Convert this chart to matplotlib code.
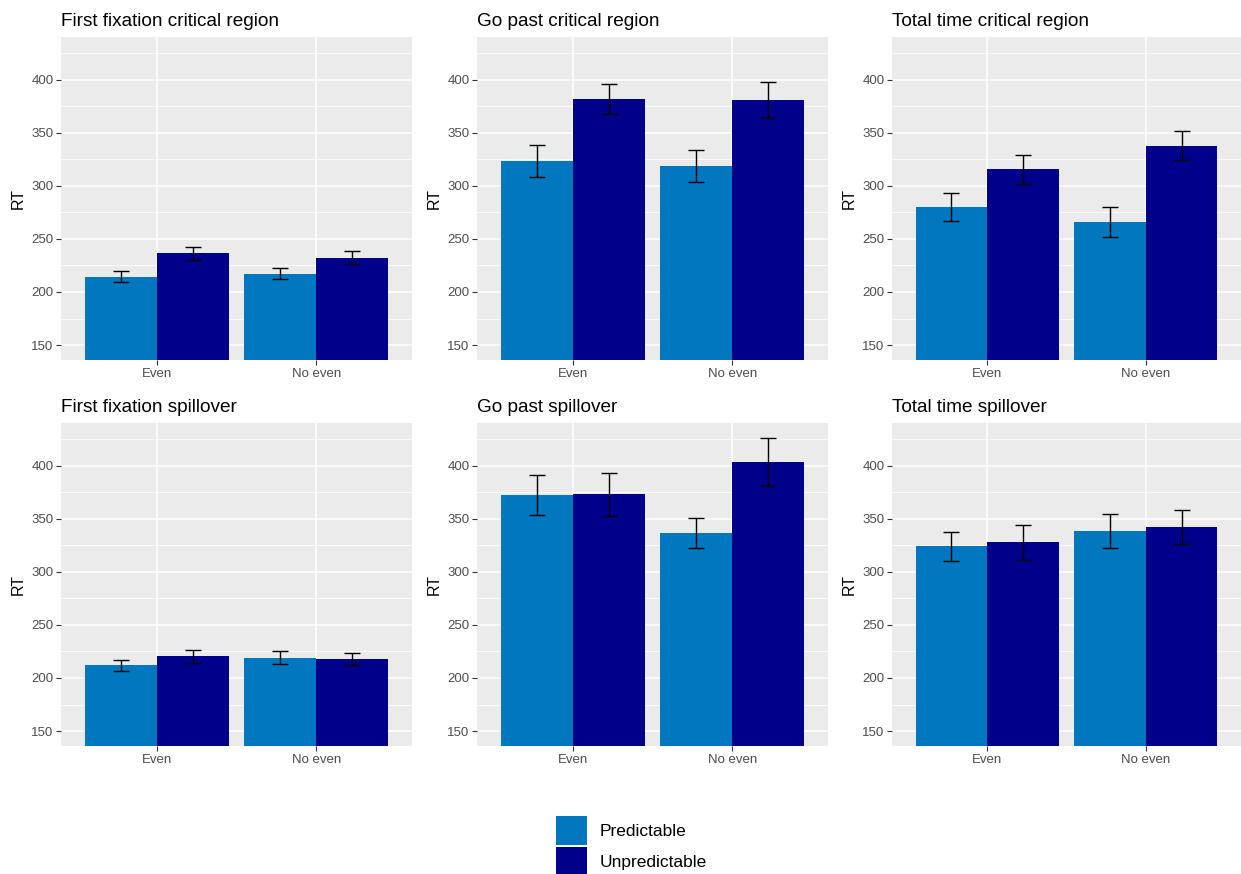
import numpy as np
import matplotlib.pyplot as plt
from matplotlib.patches import Patch
from matplotlib.ticker import MultipleLocator

plt.rcParams['font.family'] = ['Liberation Sans', 'DejaVu Sans']

# reading-time means (ms) and standard errors per measure
conditions = ["Even", "No even"]
groups = ["Predictable", "Unpredictable"]
titles = [
    "First fixation critical region", "Go past critical region", "Total time critical region",
    "First fixation spillover", "Go past spillover", "Total time spillover",
]
pred_rt = [[214.4, 217.2], [323.4, 318.7], [280.0, 265.9],
           [211.9, 219.1], [372.2, 336.8], [324.0, 338.0]]
unpred_rt = [[236.4, 232.3], [381.5, 380.5], [315.5, 337.8],
             [220.4, 218.2], [373.1, 403.4], [327.7, 342.0]]
pred_se = [[5.2, 5.2], [14.8, 15.0], [13.2, 14.3],
           [5.2, 6.3], [19.1, 14.1], [13.5, 16.1]]
unpred_se = [[6.0, 6.2], [14.3, 16.7], [13.4, 13.7],
             [6.4, 5.6], [20.2, 22.7], [16.3, 16.3]]

colors = ["#0077BE", "#00008B"]

W, H = 1241, 874
fig = plt.figure(figsize=(W / 100, H / 100), dpi=100)

col_left = [61, 477, 892]
col_width = [351, 351, 349]
row_top = [37, 423]
panel_h = 323

x = np.arange(1, len(conditions) + 1)
bw = 0.45

for i, title in enumerate(titles):
    r, c = divmod(i, 3)
    rect = [col_left[c] / W, 1 - (row_top[r] + panel_h) / H, col_width[c] / W, panel_h / H]
    ax = fig.add_axes(rect)
    ax.set_facecolor("#EBEBEB")

    ax.bar(x - bw / 2, pred_rt[i], width=bw, color=colors[0], zorder=3)
    ax.bar(x + bw / 2, unpred_rt[i], width=bw, color=colors[1], zorder=3)
    ax.errorbar(x - bw / 2, pred_rt[i], yerr=pred_se[i], fmt="none", ecolor="black",
                elinewidth=1, capsize=5.8, capthick=1, zorder=4)
    ax.errorbar(x + bw / 2, unpred_rt[i], yerr=unpred_se[i], fmt="none", ecolor="black",
                elinewidth=1, capsize=5.8, capthick=1, zorder=4)

    ax.set_xlim(0.4, 2.6)
    ax.set_ylim(136, 440)
    ax.set_xticks(x)
    ax.set_xticklabels(conditions)
    ax.yaxis.set_major_locator(MultipleLocator(50))
    ax.yaxis.set_minor_locator(MultipleLocator(25))
    ax.set_yticks(np.arange(150, 401, 50))

    ax.grid(which="major", color="white", linewidth=1.1, zorder=0)
    ax.grid(which="minor", axis="y", color="white", linewidth=0.55, zorder=0)
    ax.set_axisbelow(True)
    for s in ax.spines.values():
        s.set_visible(False)
    ax.tick_params(which="major", length=3.5, color="#333333", labelcolor="#4D4D4D",
                   labelsize=9.5, pad=2)
    ax.tick_params(which="minor", length=0)

    ax.set_ylabel("RT", fontsize=11.5, labelpad=4)
    ax.set_title(title, loc="left", fontsize=13.7, pad=8)

handles = [Patch(facecolor=colors[0]), Patch(facecolor=colors[1])]
fig.legend(handles, groups, loc="upper left", bbox_to_anchor=(549 / W, 1 - 809 / H),
           frameon=False, fontsize=12.5, handlelength=1.8, handleheight=2.2,
           labelspacing=0.1, handletextpad=0.7, borderaxespad=0)

fig.savefig("out.png", dpi=100)
